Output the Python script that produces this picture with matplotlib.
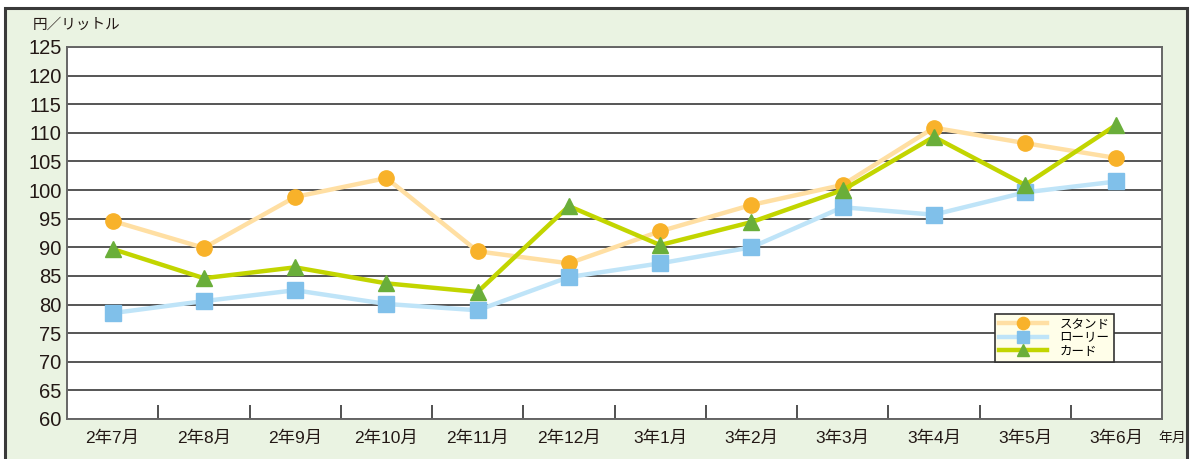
import matplotlib
matplotlib.use("Agg")
import matplotlib.pyplot as plt
from matplotlib.patches import Rectangle

plt.rcParams['font.family'] = ['Liberation Sans', 'Noto Sans CJK JP', 'DejaVu Sans']

# ===== データ =====
MONTHS = ['2年7月', '2年8月', '2年9月', '2年10月', '2年11月', '2年12月',
          '3年1月', '3年2月', '3年3月', '3年4月', '3年5月', '3年6月']
STAND = [94.6, 89.9, 98.8, 102.1, 89.3, 87.2, 92.8, 97.4, 100.9, 110.9, 108.2, 105.6]
LORRY = [78.5, 80.6, 82.5, 80.1, 79.0, 84.8, 87.2, 90.0, 97.0, 95.7, 99.6, 101.5]
CARD = [89.7, 84.6, 86.5, 83.7, 82.2, 97.2, 90.4, 94.4, 100.0, 109.3, 100.9, 111.4]
Y_TICKS = list(range(60, 126, 5))

# ===== 図 =====
fig = plt.figure(figsize=(11.9, 4.59), dpi=100)
fig.patch.set_facecolor('white')
panel = Rectangle((5 / 1190, -0.05), 1182 / 1190, 1.05 - 8 / 459,
                  transform=fig.transFigure, facecolor='#EAF3E2',
                  edgecolor='#3a3a3a', linewidth=2.2, zorder=-10)
fig.patches.append(panel)

ax = fig.add_axes([67 / 1190, 40 / 459, 1095 / 1190, 372 / 459])
ax.set_zorder(1)
ax.set_facecolor('white')

x = list(range(len(MONTHS)))
ax.plot(x, STAND, color='#FFDFA3', lw=3.2, marker='o', ms=11,
        mfc='#F8B22A', mec='#F8B22A', label='スタンド', zorder=3)
ax.plot(x, LORRY, color='#BFE4F8', lw=3.2, marker='s', ms=11,
        mfc='#80C0EA', mec='#80C0EA', label='ローリー', zorder=3)
ax.plot(x, CARD, color='#C2D500', lw=3.2, marker='^', ms=11,
        mfc='#6AAE3A', mec='#6AAE3A', label='カード', zorder=4)

ax.set_xlim(-0.5, len(MONTHS) - 0.5)
ax.set_ylim(60, 125)
ax.set_yticks(Y_TICKS)
ax.set_yticklabels([str(v) for v in Y_TICKS], fontsize=14.5, color='#231815')
ax.yaxis.grid(True, color='#555555', lw=1.4)
ax.set_axisbelow(True)
ax.tick_params(axis='y', length=0, pad=4)

ax.set_xticks(x)
ax.set_xticklabels(MONTHS, fontsize=12.5, color='#231815')
ax.set_xticks([i + 0.5 for i in x[:-1]], minor=True)
ax.tick_params(axis='x', which='major', length=0, pad=8)
ax.tick_params(axis='x', which='minor', direction='in', length=10,
               width=1.2, color='#333333')

for s in ax.spines.values():
    s.set_color('#666666')
    s.set_linewidth(1.4)

fig.text(33 / 1190, 1 - 25 / 459, '円／リットル', fontsize=10.5,
         color='#231815', va='center', ha='left')
fig.text(1172 / 1190, 1 - 438 / 459, '年月', fontsize=10,
         color='#231815', va='center', ha='center')

leg = ax.legend(loc='lower left', bbox_to_anchor=(928 / 1095, 57 / 372),
                borderaxespad=0, fontsize=9, frameon=True, fancybox=False,
                handlelength=3.8, handletextpad=1.0, borderpad=0.35,
                labelspacing=0.12, markerscale=0.8)
leg.get_frame().set_facecolor('#FFFEE9')
leg.get_frame().set_edgecolor('#333333')
leg.get_frame().set_linewidth(1.2)
leg.get_frame().set_alpha(1)

fig.savefig('out.png', dpi=100)
